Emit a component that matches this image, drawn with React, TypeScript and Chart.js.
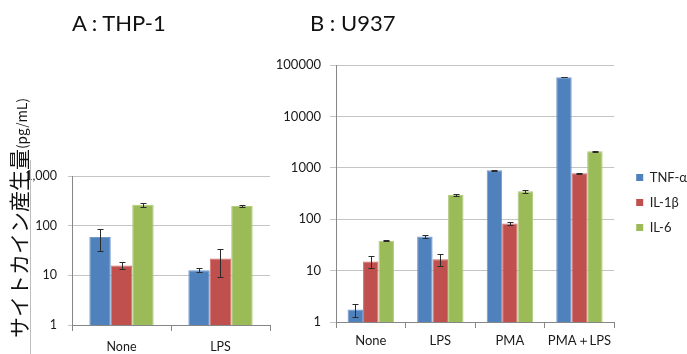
import React, { useEffect, useRef } from 'react';
import { Chart, registerables } from 'chart.js';

Chart.register(...registerables);

// ---------- data ----------
const seriesNames = ['TNF-α', 'IL-1β', 'IL-6'];
const seriesColors = ['#4F81BD', '#C0504D', '#9BBB59'];
const seriesBorders = ['#7199CB', '#CD6D6A', '#B0CB7C'];

const categoriesA = ['None', 'LPS'];
const tnfA = [59, 12.7];
const tnfErrA = [28, 1.2];
const il1bA = [15.8, 21.8];
const il1bErrA = [2.5, 12.7];
const il6A = [265, 249];
const il6ErrA = [23, 15];
const tickValuesA = [1, 10, 100, 1000];
const tickLabelsA = ['1', '10', '100', '1,000'];

const categoriesB = ['None', 'LPS', 'PMA', 'PMA＋LPS'];
const tnfB = [1.75, 46, 894, 58000];
const tnfErrB = [0.5, 3, 25, 400];
const il1bB = [15, 16.7, 82.8, 782];
const il1bErrB = [4, 4.4, 5, 10];
const il6B = [37.9, 295, 348, 2100];
const il6ErrB = [1, 15, 28, 30];
const tickValuesB = [1, 10, 100, 1000, 10000, 100000];
const tickLabelsB = ['1', '10', '100', '1000', '10000', '100000'];

const titleA = 'A : THP-1';
const titleB = 'B : U937';
const yTitleMain = 'サイトカイン産生量';
const yTitleUnit = '(pg/mL)';

// ---------- helpers ----------
const errorBarPlugin = {
  id: 'errorBars',
  afterDatasetsDraw(chart: any) {
    const ctx = chart.ctx;
    const yScale = chart.scales.y;
    chart.data.datasets.forEach((ds: any, di: number) => {
      const meta = chart.getDatasetMeta(di);
      if (meta.hidden) return;
      const errs = ds.errors || [];
      meta.data.forEach((bar: any, i: number) => {
        const v = ds.data[i];
        const e = errs[i];
        if (e == null) return;
        const x = Math.round(bar.x) + 0.5;
        const yTop = Math.round(yScale.getPixelForValue(v + e)) + 0.5;
        const yBot = Math.round(yScale.getPixelForValue(Math.max(v - e, yScale.min))) + 0.5;
        ctx.save();
        ctx.strokeStyle = '#2b2b2b';
        ctx.lineWidth = 1;
        ctx.beginPath();
        ctx.moveTo(x, yTop);
        ctx.lineTo(x, yBot);
        ctx.moveTo(x - 3, yTop);
        ctx.lineTo(x + 3, yTop);
        ctx.moveTo(x - 3, yBot);
        ctx.lineTo(x + 3, yBot);
        ctx.stroke();
        ctx.restore();
      });
    });
  },
};

const legendShiftPlugin = {
  id: 'legendShift',
  afterLayout(chart: any) {
    const lg = chart.legend;
    if (lg && chart.options.plugins.legend.display) {
      lg.left += 10;
      lg.right += 10;
      lg.top -= 7;
      lg.bottom -= 7;
    }
  },
};

function makeDatasets(values: number[][], errors: number[][]) {
  return values.map((vals, i) => ({
    label: seriesNames[i],
    data: vals,
    errors: errors[i],
    backgroundColor: seriesColors[i],
    borderColor: seriesBorders[i],
    borderWidth: 1,
  }));
}

const AXIS = '#868686';
const GRID = '#c4c4c4';
const TEXT = '#1a1a1a';

export default function App() {
  const refA = useRef<HTMLCanvasElement>(null);
  const refB = useRef<HTMLCanvasElement>(null);

  useEffect(() => {
    const chartA = new Chart(refA.current as HTMLCanvasElement, {
      type: 'bar',
      data: {
        labels: categoriesA,
        datasets: makeDatasets([tnfA, il1bA, il6A], [tnfErrA, il1bErrA, il6ErrA]) as any,
      },
      plugins: [errorBarPlugin],
      options: {
        responsive: false,
        animation: false,
        devicePixelRatio: 1,
        datasets: { bar: { categoryPercentage: 0.65, barPercentage: 1.0 } },
        layout: { padding: { left: 12, top: 176, right: 417, bottom: 0 } },
        plugins: { legend: { display: false }, tooltip: { enabled: false } },
        scales: {
          x: {
            type: 'category',
            offset: true,
            grid: { offset: true, drawOnChartArea: false, drawTicks: true, tickLength: 6, color: AXIS },
            border: { display: true, color: AXIS },
            ticks: { font: { family: 'Lato', size: 12.5 }, color: TEXT, padding: 8, maxRotation: 0, autoSkip: false },
            afterFit: (s: any) => { s.height = 29; },
          },
          y: {
            type: 'logarithmic',
            min: 1,
            max: 1000,
            afterBuildTicks: (s: any) => { s.ticks = tickValuesA.map((v) => ({ value: v })); },
            ticks: {
              font: { family: 'Lato', size: 12.5 },
              color: TEXT,
              padding: 11,
              callback: (v: any) => tickLabelsA[tickValuesA.indexOf(Number(v))] ?? '',
            },
            grid: { color: GRID, tickLength: 4, drawTicks: true },
            border: { display: true, color: AXIS },
            afterFit: (s: any) => { s.width = 60; },
          },
        },
      } as any,
    });

    const chartB = new Chart(refB.current as HTMLCanvasElement, {
      type: 'bar',
      data: {
        labels: categoriesB,
        datasets: makeDatasets([tnfB, il1bB, il6B], [tnfErrB, il1bErrB, il6ErrB]) as any,
      },
      plugins: [errorBarPlugin, legendShiftPlugin],
      options: {
        responsive: false,
        animation: false,
        devicePixelRatio: 1,
        datasets: { bar: { categoryPercentage: 0.667, barPercentage: 1.0 } },
        layout: { padding: { left: 276, top: 65, right: 0, bottom: 0 } },
        plugins: {
          tooltip: { enabled: false },
          legend: {
            display: true,
            position: 'right',
            maxWidth: 74,
            labels: {
              boxWidth: 7,
              boxHeight: 7,
              padding: 12,
              color: '#222',
              font: { family: 'Lato', size: 13 },
              generateLabels: (chart: any) =>
                (Chart.defaults.plugins.legend.labels.generateLabels as any)(chart).map((l: any) => ({
                  ...l,
                  strokeStyle: l.fillStyle,
                  lineWidth: 0,
                })),
            },
          },
        },
        scales: {
          x: {
            type: 'category',
            offset: true,
            grid: { offset: true, drawOnChartArea: false, drawTicks: true, tickLength: 6, color: AXIS },
            border: { display: true, color: AXIS },
            ticks: { font: { family: 'Lato', size: 13 }, color: TEXT, padding: 5, maxRotation: 0, autoSkip: false },
            afterFit: (s: any) => { s.height = 32; },
          },
          y: {
            type: 'logarithmic',
            min: 1,
            max: 100000,
            afterBuildTicks: (s: any) => { s.ticks = tickValuesB.map((v) => ({ value: v })); },
            ticks: {
              font: { family: 'Lato', size: 13 },
              color: TEXT,
              padding: 9,
              callback: (v: any) => tickLabelsB[tickValuesB.indexOf(Number(v))] ?? '',
            },
            grid: { color: GRID, tickLength: 6, drawTicks: true },
            border: { display: true, color: AXIS },
            afterFit: (s: any) => { s.width = 60; },
          },
        },
      } as any,
    });

    return () => {
      chartA.destroy();
      chartB.destroy();
    };
  }, []);

  const titleStyle: React.CSSProperties = {
    position: 'absolute',
    top: 9,
    fontFamily: 'Lato',
    fontSize: 22,
    color: '#111',
    whiteSpace: 'nowrap',
    lineHeight: 'normal',
  };

  return (
    <div
      style={{
        position: 'fixed',
        left: 0,
        top: 0,
        width: 687,
        height: 354,
        background: '#fff',
        overflow: 'hidden',
      }}
    >
      <canvas ref={refA} width={687} height={354} style={{ position: 'absolute', left: 0, top: 0, width: 687, height: 354 }} />
      <canvas ref={refB} width={687} height={354} style={{ position: 'absolute', left: 0, top: 0, width: 687, height: 354 }} />
      <div style={{ ...titleStyle, left: 72 }}>{titleA}</div>
      <div style={{ ...titleStyle, left: 310 }}>{titleB}</div>
      <div
        style={{
          position: 'absolute',
          left: 18,
          top: 218,
          transform: 'translate(-50%, -50%) rotate(-90deg)',
          whiteSpace: 'nowrap',
          lineHeight: 1,
          color: '#111',
          fontFamily: "'Noto Sans CJK JP', 'Noto Sans'",
        }}
      >
        <span style={{ fontSize: 21 }}>{yTitleMain}</span>
        <span style={{ fontSize: 13.5 }}>{yTitleUnit}</span>
      </div>
      <div style={{ position: 'absolute', left: 30, top: 160, width: 1, height: 194, background: '#bdbdbd' }} />
    </div>
  );
}
